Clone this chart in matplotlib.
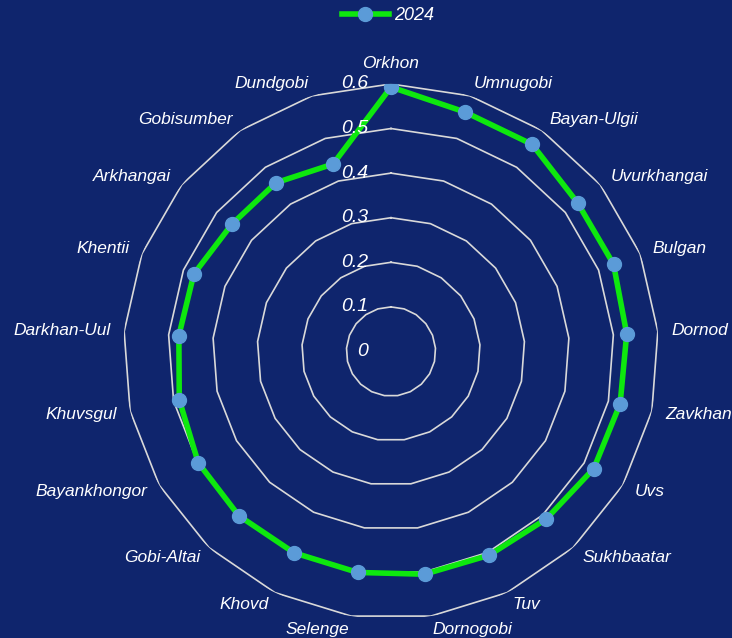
import numpy as np
import matplotlib
matplotlib.use('Agg')
from matplotlib import pyplot as plt
from matplotlib.lines import Line2D

## 資料
categories = ['Orkhon', 'Umnugobi', 'Bayan-Ulgii', 'Uvurkhangai', 'Bulgan', 'Dornod',
              'Zavkhan', 'Uvs', 'Sukhbaatar', 'Tuv', 'Dornogobi', 'Selenge', 'Khovd',
              'Gobi-Altai', 'Bayankhongor', 'Khuvsgul', 'Darkhan-Uul', 'Khentii',
              'Arkhangai', 'Gobisumber', 'Dundgobi']
values_2024 = [0.593, 0.562, 0.562, 0.535, 0.536, 0.530, 0.527, 0.525, 0.512, 0.507,
               0.505, 0.501, 0.501, 0.502, 0.499, 0.487, 0.477, 0.475, 0.457, 0.458, 0.440]
series_name = '2024'
r_ticks = [0, 0.1, 0.2, 0.3, 0.4, 0.5, 0.6]
r_tick_labels = ['0', '0.1', '0.2', '0.3', '0.4', '0.5', '0.6']

bg = '#0f256d'
green = '#0ee80e'
dot = '#5b9bd8'
grid_c = '#d9d9d9'

plt.rcParams['font.family'] = ['Liberation Sans', 'DejaVu Sans']

fig = plt.figure(figsize=(7.32, 6.38), dpi=100, facecolor=bg)
ax = fig.add_axes([0.1686, 0.0296, 0.7311, 0.8389], projection='polar')
ax.set_facecolor(bg)
ax.set_theta_zero_location('N')
ax.set_theta_direction(-1)

n = len(categories)
theta = np.arange(n) * 2 * np.pi / n
theta_c = np.append(theta, theta[0])

# 多邊形格線
for r in r_ticks[1:]:
    ax.plot(theta_c, [r] * (n + 1), color=grid_c, lw=1.2, zorder=1)

vals = np.append(values_2024, values_2024[0])
ax.plot(theta_c, vals, color=green, lw=4, zorder=3)
ax.plot(theta, values_2024, 'o', color=dot, markersize=10, zorder=4)

ax.set_ylim(0, 0.6)
ax.grid(False)
ax.spines['polar'].set_visible(False)
ax.set_xticks([])
ax.set_yticks([])

# 軸標籤
for r, lab in zip(r_ticks, r_tick_labels):
    ax.annotate(lab, xy=(0, r), xytext=(-16.5, 0), textcoords='offset points',
                ha='right', va='center', color='white', fontsize=14, style='italic')

for t, name in zip(theta, categories):
    s = np.sin(t)
    if abs(s) < 0.05:
        ha = 'center'
    elif s > 0:
        ha = 'left'
    else:
        ha = 'right'
    va = 'bottom' if name == 'Orkhon' else 'center'
    ax.text(t, 0.63, name, ha=ha, va=va, color='white', fontsize=12.5, style='italic')

handle = Line2D([0], [0], color=green, lw=4, marker='o', markersize=10,
                markerfacecolor=dot, markeredgecolor=dot)
leg = fig.legend([handle], [series_name], loc='center', bbox_to_anchor=(0.53, 0.975),
                 frameon=False, handlelength=2.6, handletextpad=0.3,
                 prop={'size': 13, 'style': 'italic'})
for txt in leg.get_texts():
    txt.set_color('white')

fig.savefig('out.png', dpi=100, facecolor=bg)
